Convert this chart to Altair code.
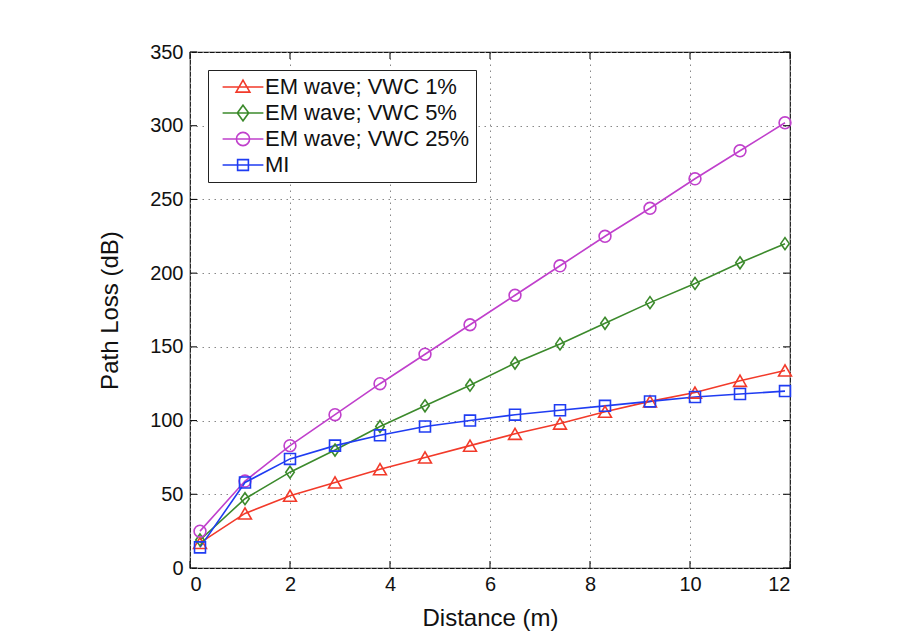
import altair as alt
import pandas as pd

distance = [0.2, 1.1, 2.0, 2.9, 3.8, 4.7, 5.6, 6.5, 7.4, 8.3, 9.2, 10.1, 11.0, 11.9]
em_vwc1 = [17, 37, 49, 58, 67, 75, 83, 91, 98, 106, 113, 119, 127, 134]
em_vwc5 = [19, 47, 65, 80, 96, 110, 124, 139, 152, 166, 180, 193, 207, 220]
em_vwc25 = [25, 59, 83, 104, 125, 145, 165, 185, 205, 225, 244, 264, 283, 302]
mi = [14, 58, 74, 83, 90, 96, 100, 104, 107, 110, 113, 116, 118, 120]

series_names = ["EM wave; VWC 1%", "EM wave; VWC 5%", "EM wave; VWC 25%", "MI"]
series_values = [em_vwc1, em_vwc5, em_vwc25, mi]
colors = ["#f23a2a", "#3c8a2c", "#c040cc", "#1f3cf2"]
marker_shapes = ["triangle-up", "M0,-1.2L0.85,0L0,1.2L-0.85,0Z", "circle", "square"]
marker_sizes = [165, 100, 140, 120]

line_seg = "M-3.4,0H3.4"
legend_paths = [
    line_seg + "M0,-1.15L1.15,0.85L-1.15,0.85Z",
    line_seg + "M0,-1.3L0.95,0L0,1.3L-0.95,0Z",
    line_seg + "M-1.1,0A1.1,1.1,0,1,0,1.1,0A1.1,1.1,0,1,0,-1.1,0Z",
    line_seg + "M-0.9,-0.9H0.9V0.9H-0.9Z",
]

x_ticks = [0, 2, 4, 6, 8, 10, 12]
y_ticks = [0, 50, 100, 150, 200, 250, 300, 350]

rows = []
for name, vals in zip(series_names, series_values):
    for d, v in zip(distance, vals):
        rows.append({"distance": d, "loss": v, "series": name})
df = pd.DataFrame(rows)
xt_df = pd.DataFrame({"t": x_ticks})
yt_df = pd.DataFrame({"t": y_ticks})

FONT = "Liberation Sans"


def xscale():
    return alt.Scale(domain=[0, 12], nice=False)


def yscale():
    return alt.Scale(domain=[0, 350], nice=False)


def color():
    return alt.Color("series:N", scale=alt.Scale(domain=series_names, range=colors),
                     legend=alt.Legend(title=None))


def main_x():
    return alt.Axis(title="Distance (m)", values=x_ticks, grid=True,
                    gridColor="#888888", gridDash=[1.5, 4.5], gridWidth=1,
                    ticks=False, domain=False, labelFontSize=20, labelFont=FONT,
                    labelColor="#111111", labelPadding=6, titleFontSize=24,
                    titleFont=FONT, titleFontWeight="normal", titleColor="#111111",
                    titlePadding=12)


def main_y():
    return alt.Axis(title="Path Loss (dB)", values=y_ticks, grid=True,
                    gridColor="#888888", gridDash=[1.5, 4.5], gridWidth=1,
                    ticks=False, domain=False, labelFontSize=20, labelFont=FONT,
                    labelColor="#111111", labelPadding=7, titleFontSize=24,
                    titleFont=FONT, titleFontWeight="normal", titleColor="#111111",
                    titlePadding=27)


base = alt.Chart(df)

lines = base.mark_line(strokeWidth=1.6).encode(
    x=alt.X("distance:Q", scale=xscale(), axis=main_x()),
    y=alt.Y("loss:Q", scale=yscale(), axis=main_y()),
    color=color(),
    detail="series:N",
)

point_layers = []
for name, shp, sz in zip(series_names, marker_shapes, marker_sizes):
    point_layers.append(
        base.transform_filter(alt.datum.series == name)
        .mark_point(shape=shp, filled=False, strokeWidth=1.6, opacity=1, size=sz)
        .encode(
            x=alt.X("distance:Q", scale=xscale(), axis=main_x()),
            y=alt.Y("loss:Q", scale=yscale(), axis=main_y()),
            color=color(),
        )
    )

legend_layer = base.mark_point(opacity=0, filled=False).encode(
    x=alt.X("distance:Q", scale=xscale(), axis=main_x()),
    y=alt.Y("loss:Q", scale=yscale(), axis=main_y()),
    color=color(),
    shape=alt.Shape("series:N", scale=alt.Scale(domain=series_names, range=legend_paths),
                    legend=alt.Legend(title=None)),
)

TICK = 7
tick_style = dict(color="#111111", strokeWidth=1.1)
ticks_bottom = alt.Chart(xt_df).mark_rule(y2Offset=-TICK, **tick_style).encode(
    x=alt.X("t:Q", scale=xscale(), axis=main_x()),
    y=alt.Y(datum=0, scale=yscale(), axis=main_y()), y2=alt.Y2(datum=0))
ticks_top = alt.Chart(xt_df).mark_rule(y2Offset=TICK, **tick_style).encode(
    x=alt.X("t:Q", scale=xscale(), axis=main_x()),
    y=alt.Y(datum=350, scale=yscale(), axis=main_y()), y2=alt.Y2(datum=350))
ticks_left = alt.Chart(yt_df).mark_rule(x2Offset=TICK, **tick_style).encode(
    y=alt.Y("t:Q", scale=yscale(), axis=main_y()),
    x=alt.X(datum=0, scale=xscale(), axis=main_x()), x2=alt.X2(datum=0))
ticks_right = alt.Chart(yt_df).mark_rule(x2Offset=-TICK, **tick_style).encode(
    y=alt.Y("t:Q", scale=yscale(), axis=main_y()),
    x=alt.X(datum=12, scale=xscale(), axis=main_x()), x2=alt.X2(datum=12))

chart = alt.layer(
    lines, *point_layers, legend_layer,
    ticks_bottom, ticks_top, ticks_left, ticks_right,
).properties(
    width=600,
    height=516,
    autosize=alt.AutoSizeParams(type="none"),
    padding={"left": 190, "top": 52, "right": 111, "bottom": 74},
    background="white",
).configure_view(
    stroke="#111111", strokeWidth=1.2
).configure_legend(
    orient="top-left",
    offset=18,
    strokeColor="#222222",
    fillColor="white",
    padding=6,
    labelFont=FONT,
    labelFontSize=22,
    labelColor="#111111",
    labelLimit=400,
    labelOffset=11,
    symbolSize=144,
    symbolOffset=18,
    symbolStrokeWidth=1.6,
    symbolOpacity=1,
    rowPadding=4,
)

chart.save("out.html", embed_options={"renderer": "svg", "actions": False})
